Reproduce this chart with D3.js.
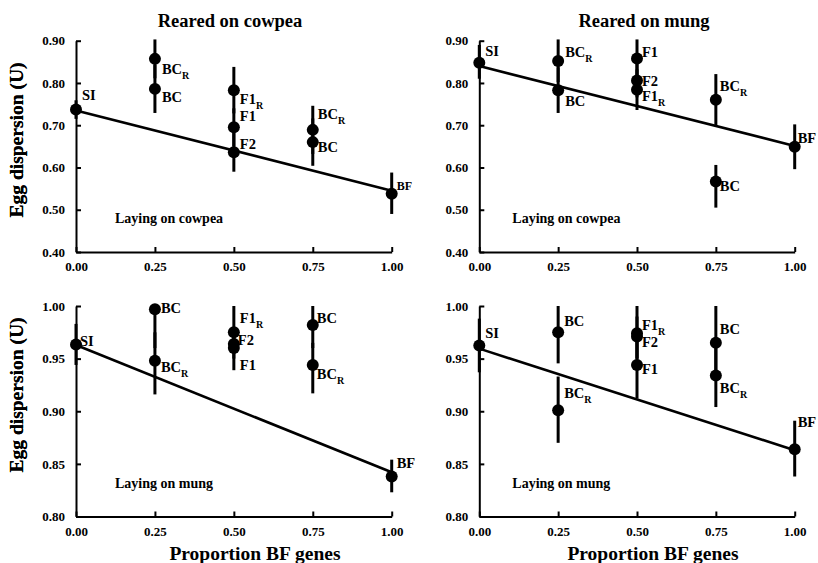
<!DOCTYPE html>
<html>
<head>
<meta charset="utf-8">
<script src="https://cdn.jsdelivr.net/npm/d3@7"></script>
<style>
  html, body { margin: 0; padding: 0; background: #ffffff; }
  svg text { font-family: "Liberation Serif", Tinos, "Times New Roman", Times, "DejaVu Serif", serif; font-weight: bold; fill: #000; }
</style>
</head>
<body>
<div id="chart"></div>
<script>
// ---- data ----
const xTicks       = [0, 0.25, 0.5, 0.75, 1];
const yTicksTop    = [0.40, 0.50, 0.60, 0.70, 0.80, 0.90];
const yTicksBottom = [0.80, 0.85, 0.90, 0.95, 1.00];
const columnTitles = ['Reared on cowpea', 'Reared on mung'];
const layingLabels = ['Laying on cowpea', 'Laying on cowpea', 'Laying on mung', 'Laying on mung'];
const xTitle       = 'Proportion BF genes';
const yTitle       = 'Egg dispersion (U)';

// crosses, same order in every panel
const crossName = ['SI', 'BC', 'BC', 'F1', 'F1', 'F2', 'BC', 'BC', 'BF'];
const crossSub  = ['',   'R',  '',   'R',  '',   '',   'R',  '',   ''];
const propBF    = [0, 0.25, 0.25, 0.5, 0.5, 0.5, 0.75, 0.75, 1];

// rearing cowpea / laying cowpea
const meanCC = [0.737, 0.857, 0.786, 0.783, 0.695, 0.636, 0.689, 0.660, 0.538];
const loCC   = [0.715, 0.811, 0.729, 0.728, 0.650, 0.590, 0.632, 0.604, 0.490];
const hiCC   = [0.759, 0.903, 0.843, 0.838, 0.740, 0.682, 0.746, 0.716, 0.588];
// rearing mung / laying cowpea
const meanMC = [0.848, 0.852, 0.783, 0.784, 0.858, 0.806, 0.760, 0.567, 0.649];
const loMC   = [0.810, 0.802, 0.729, 0.736, 0.813, 0.766, 0.699, 0.505, 0.596];
const hiMC   = [0.890, 0.903, 0.837, 0.832, 0.903, 0.846, 0.821, 0.606, 0.702];
// rearing cowpea / laying mung
const meanCM = [0.9635, 0.948, 0.997, 0.975, 0.960, 0.964, 0.944, 0.982, 0.838];
const loCM   = [0.944, 0.916, 0.960, 0.955, 0.939, 0.950, 0.917, 0.960, 0.823];
const hiCM   = [0.983, 0.975, 1.000, 1.000, 0.975, 0.978, 0.965, 1.000, 0.854];
// rearing mung / laying mung
const meanMM = [0.9625, 0.901, 0.975, 0.974, 0.944, 0.971, 0.934, 0.965, 0.864];
const loMM   = [0.937, 0.870, 0.9455, 0.950, 0.912, 0.950, 0.904, 0.935, 0.838];
const hiMM   = [0.988, 0.933, 1.000, 1.000, 0.975, 0.990, 0.960, 1.000, 0.891];

// regression line values at 0 and 1
const fitCC = [0.735, 0.545];
const fitMC = [0.840, 0.651];
const fitCM = [0.963, 0.842];
const fitMM = [0.9595, 0.863];

// label nudges [dx, dy] for each cross, per panel
const nudgeCC = [[6,-10],[7,15],[7,13],[6,14],[6,-6],[6,-3],[5,-11],[5,10],[5,-4]];
const nudgeMC = [[6,-7],[7,-4],[7,16],[5,11],[5,-1],[5,6],[4,-9],[4,10],[3,-4]];
const nudgeCM = [[4,2],[6,11],[6,4],[6,-9],[6,22],[4,1],[4,14],[4,-2],[5,-9]];
const nudgeMM = [[6,-7],[6,-12],[6,-6],[5,-3],[5,9],[5,10],[4,18],[4,-9],[3,-22]];

// ---- layout ----
const fontSerif       = '"Liberation Serif", Tinos, "Times New Roman", Times, "DejaVu Serif", serif';
const widthContainer  = 818;
const heightContainer = 563;
const colX = [[76, 391.7], [479.3, 794.7]];
const rowY = [[252, 40.7], [516.5, 306]];

const panels = [
  {col: 0, row: 0, mean: meanCC, lo: loCC, hi: hiCC, fit: fitCC, nudge: nudgeCC, laying: layingLabels[0], yDomain: [0.40, 0.90], yTicks: yTicksTop},
  {col: 1, row: 0, mean: meanMC, lo: loMC, hi: hiMC, fit: fitMC, nudge: nudgeMC, laying: layingLabels[1], yDomain: [0.40, 0.90], yTicks: yTicksTop},
  {col: 0, row: 1, mean: meanCM, lo: loCM, hi: hiCM, fit: fitCM, nudge: nudgeCM, laying: layingLabels[2], yDomain: [0.80, 1.00], yTicks: yTicksBottom},
  {col: 1, row: 1, mean: meanMM, lo: loMM, hi: hiMM, fit: fitMM, nudge: nudgeMM, laying: layingLabels[3], yDomain: [0.80, 1.00], yTicks: yTicksBottom},
];

let svg = d3.select('#chart')
  .append('svg')
  .attr('width', widthContainer)
  .attr('height', heightContainer)
  .attr('viewBox', `0 0 ${widthContainer} ${heightContainer}`)
  .style('font-family', fontSerif);

panels.forEach(p => {
  let xScale = d3.scaleLinear().domain([0, 1]).range(colX[p.col]);
  let yScale = d3.scaleLinear().domain(p.yDomain).range(rowY[p.row]);
  let g = svg.append('g');

  // y-axis (ticks point inward)
  let yAxis = g.append('g')
    .attr('transform', `translate(${colX[p.col][0]}, 0)`)
    .call(d3.axisLeft(yScale).tickValues(p.yTicks).tickFormat(d3.format('.2f'))
      .tickSizeInner(-5).tickSizeOuter(0).tickPadding(11));
  // x-axis
  let xAxis = g.append('g')
    .attr('transform', `translate(0, ${rowY[p.row][0]})`)
    .call(d3.axisBottom(xScale).tickValues(xTicks).tickFormat(d3.format('.2f'))
      .tickSizeInner(-5).tickSizeOuter(0).tickPadding(10));

  [yAxis, xAxis].forEach(a => {
    a.attr('font-family', null).attr('font-size', null);
    a.select('.domain').attr('stroke', '#000').attr('stroke-width', 2);
    a.selectAll('.tick line').attr('stroke', '#000').attr('stroke-width', 2);
    a.selectAll('.tick text')
      .style('font-size', '13px')
      .style('font-family', fontSerif)
      .style('font-weight', 'bold');
  });

  // regression line
  g.append('line')
    .attr('x1', xScale(0)).attr('y1', yScale(p.fit[0]))
    .attr('x2', xScale(1)).attr('y2', yScale(p.fit[1]))
    .attr('stroke', '#000')
    .attr('stroke-width', 2.6);

  let items = propBF.map((x, i) => ({x: x, mean: p.mean[i], lo: p.lo[i], hi: p.hi[i],
                                     name: crossName[i], sub: crossSub[i], nudge: p.nudge[i]}));

  // error bars
  g.selectAll('.err')
    .data(items)
    .enter()
    .append('line')
    .attr('class', 'err')
    .attr('x1', d => xScale(d.x)).attr('x2', d => xScale(d.x))
    .attr('y1', d => yScale(d.lo)).attr('y2', d => yScale(d.hi))
    .attr('stroke', '#000')
    .attr('stroke-width', 3);

  // points
  g.selectAll('.pt')
    .data(items)
    .enter()
    .append('circle')
    .attr('class', 'pt')
    .attr('cx', d => xScale(d.x))
    .attr('cy', d => yScale(d.mean))
    .attr('r', 6)
    .attr('fill', '#000');

  // cross labels
  let labels = g.selectAll('.lbl')
    .data(items)
    .enter()
    .append('text')
    .attr('class', 'lbl')
    .attr('x', d => xScale(d.x) + d.nudge[0])
    .attr('y', d => yScale(d.mean) + d.nudge[1])
    .style('font-size', d => (p.col === 0 && p.row === 0 && d.name === 'BF') ? '12px' : '14.5px');
  labels.append('tspan').text(d => d.name);
  labels.filter(d => d.sub)
    .append('tspan')
    .attr('dy', 5)
    .style('font-size', '10px')
    .text(d => d.sub);

  // laying label
  g.append('text')
    .attr('x', colX[p.col][0] + (p.col === 0 ? 39 : 33))
    .attr('y', p.row === 0 ? 223 : 488)
    .style('font-size', '14px')
    .text(p.laying);

  // y title
  g.append('text')
    .attr('transform', `translate(23, ${p.row === 0 ? 140 : 395}) rotate(-90)`)
    .style('text-anchor', 'middle')
    .style('font-size', '19.5px')
    .text(yTitle);

  if (p.row === 0) {
    g.append('text')
      .attr('x', p.col === 0 ? 230 : 644)
      .attr('y', 27)
      .style('text-anchor', 'middle')
      .style('font-size', '18.5px')
      .text(columnTitles[p.col]);
  } else {
    g.append('text')
      .attr('x', p.col === 0 ? 255 : 653)
      .attr('y', 560)
      .style('text-anchor', 'middle')
      .style('font-size', '19.5px')
      .text(xTitle);
  }
});
</script>
</body>
</html>
